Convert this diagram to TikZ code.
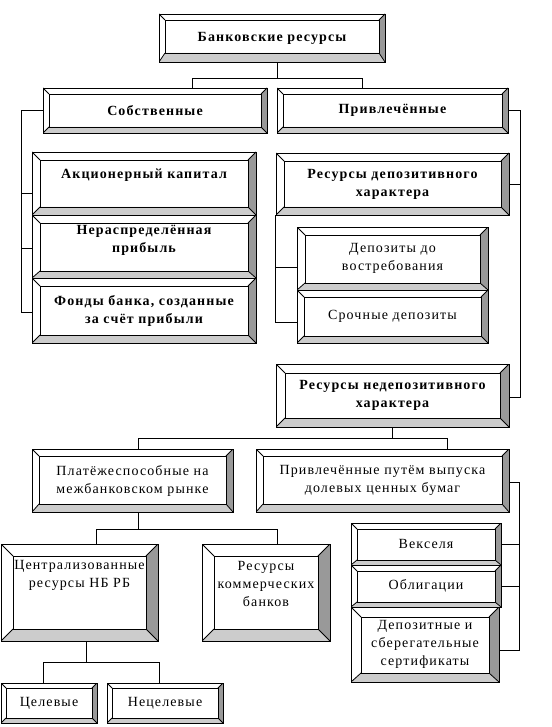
\documentclass[tikz,border=0pt]{standalone}
\usepackage{fontspec}
\setmainfont{Liberation Serif}[LetterSpace=8]
\usepackage{tikz}
\definecolor{bevdark}{rgb}{0.6, 0.6, 0.6}
\definecolor{bevlight}{rgb}{0.8, 0.8, 0.8}

\tikzset{
  bw/.store in=\bw, bb/.store in=\bb, bw=6, bb=6,
  sz/.style 2 args={minimum width=#1pt, minimum height=#2pt},
  lift/.style={text depth=#1pt},
  bevel/.style={draw, rectangle, inner sep=0pt, align=center, line width=0.8pt,
    font=\fontsize{14}{18}\selectfont,
    path picture={
      \coordinate (pnw) at (path picture bounding box.north west);
      \coordinate (pne) at (path picture bounding box.north east);
      \coordinate (pse) at (path picture bounding box.south east);
      \coordinate (psw) at (path picture bounding box.south west);
      \coordinate (qnw) at ([xshift=\bw pt,yshift=-\bw pt]pnw);
      \coordinate (qne) at ([xshift=-\bw pt,yshift=-\bw pt]pne);
      \coordinate (qse) at ([xshift=-\bw pt,yshift=\bb pt]pse);
      \coordinate (qsw) at ([xshift=\bw pt,yshift=\bb pt]psw);
      \fill[bevdark] (pne) -- (pse) -- (qse) -- (qne) -- cycle;
      \fill[bevlight] (pse) -- (psw) -- (qsw) -- (qse) -- cycle;
      \draw (qnw) rectangle (qse);
      \draw (pnw) -- (qnw) (pne) -- (qne) (pse) -- (qse) (psw) -- (qsw);
    }},
  head/.style={bevel, font=\bfseries\fontsize{14}{18}\selectfont},
}

\begin{document}
\begin{tikzpicture}[x=1pt, y=-1pt, line width=0.8pt]
    \useasboundingbox (0,0) rectangle (551,727);

    % top levels
    \node[head, sz={226}{48}, bb=9] (bank) at (272,38) {Банковские ресурсы};
    \node[head, sz={224}{45}] (own) at (155,110.5) {Собственные};
    \node[head, sz={231}{45}] (raised) at (392.5,110.5) {Привлечённые};

    % own resources
    \node[head, sz={224}{63}, bw=8, bb=8, lift=20] (capital) at (144,183.5) {Акционерный капитал};
    \node[head, sz={224}{63}, bw=8, bb=7, lift=15] (retained) at (144,246.5) {Нераспределённая\\прибыль};
    \node[head, sz={224}{65}, bw=8, bb=8] (funds) at (144,310.5) {Фонды банка, созданные\\за счёт прибыли};

    % raised resources
    \node[head, sz={233}{62}, bw=8, bb=8] (deposit) at (392.5,184) {Ресурсы депозитивного\\характера};
    \node[bevel, sz={191}{63}, bw=8, bb=7] (demand) at (392.5,258.5) {Депозиты до\\востребования};
    \node[bevel, sz={191}{53}, bw=7, bb=7] (term) at (392.5,316.5) {Срочные депозиты};
    \node[head, sz={233}{63}, bw=9, bb=9] (nondep) at (392.5,395.5) {Ресурсы недепозитивного\\характера};

    % non-deposit resources
    \node[bevel, sz={201}{63}, bw=7, bb=8] (interbank) at (132.5,480.5) {Платёжеспособные на\\межбанковском рынке};
    \node[bevel, sz={253}{63}, bw=7, bb=8] (shares) at (382.5,480.5) {Привлечённые путём выпуска\\долевых ценных бумаг};
    \node[bevel, sz={157}{97}, bw=12, bb=12, lift=37] (central) at (79.5,592.5) {Централизованные\\ресурсы НБ РБ};
    \node[bevel, sz={128}{97}, bw=12, bb=12, lift=18] (commerc) at (266,592.5) {Ресурсы\\коммерческих\\банков};
    \node[bevel, sz={150}{42}, bw=6, bb=5] (bills) at (426,544) {Векселя};
    \node[bevel, sz={150}{42}, bw=6, bb=5] (bonds) at (426,586) {Облигации};
    \node[bevel, sz={148}{75}, bw=10, bb=9] (certs) at (425,644.5) {Депозитные и\\сберегательные\\сертификаты};
    \node[bevel, sz={96}{40}, bw=5, bb=5] (target) at (49,703) {Целевые};
    \node[bevel, sz={116}{40}, bw=5, bb=5] (nontarget) at (165,703) {Нецелевые};

    % connectors
    \draw ([xshift=5pt]bank.south) -- ++(0,16) -| ([xshift=37pt]own.north);
    \draw ([xshift=5pt]bank.south) -- ++(0,16) -| ([xshift=-30.5pt]raised.north);

    \draw (own.west) -- ++(-21,0) |- ([yshift=-1.5pt]funds.west);
    \draw ([yshift=-9.5pt]capital.west) -- ++(-10,0);
    \draw ([yshift=-1.5pt]retained.west) -- ++(-10,0);

    \draw (raised.east) -- ++(12,0) |- ([yshift=-1.5pt]nondep.east);
    \draw (deposit.east) -- ++(11,0);
    \draw (deposit.south west) |- ([yshift=-5.5pt]term.west);
    \draw ([yshift=-8.5pt]demand.west) -- ++(-21,0);

    \draw (nondep.south) -- ++(0,11) -| ([xshift=5.5pt]interbank.north);
    \draw (nondep.south) -- ++(0,11) -| ([xshift=64.5pt]shares.north);

    \draw ([xshift=5.5pt]interbank.south) -- ++(0,17) -| ([xshift=16.5pt]central.north);
    \draw ([xshift=5.5pt]interbank.south) -- ++(0,17) -| ([xshift=11pt]commerc.north);

    \draw ([yshift=-1.5pt]shares.east) -- ++(10,0) |- ([yshift=-5.5pt]certs.east);
    \draw (bills.east) -- ++(18,0);
    \draw (bonds.east) -- ++(18,0);

    \draw ([xshift=6.5pt]central.south) -- ++(0,21) -| ([xshift=-6pt]target.north);
    \draw ([xshift=6.5pt]central.south) -- ++(0,21) -| ([xshift=-6pt]nontarget.north);
\end{tikzpicture}
\end{document}
